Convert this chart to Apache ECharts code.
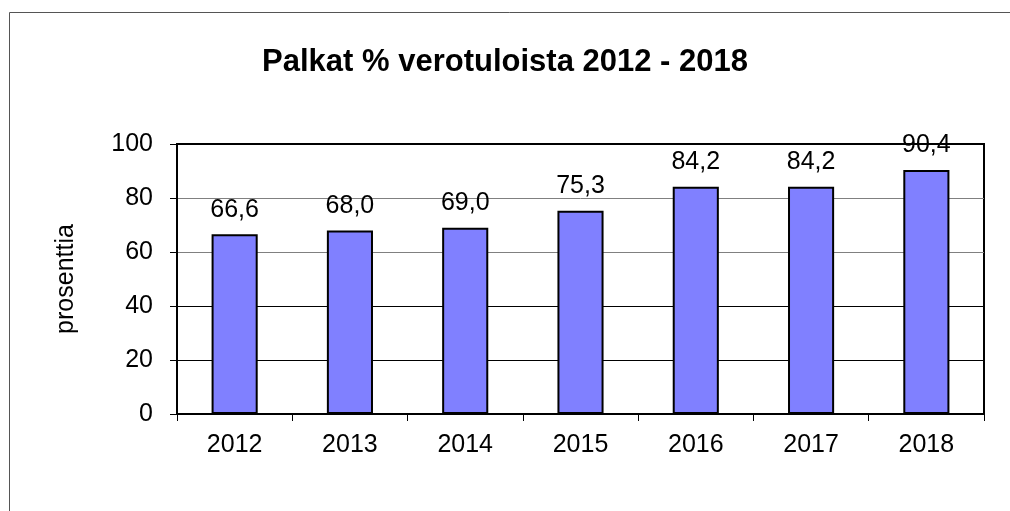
<!DOCTYPE html>
<html><head><meta charset="utf-8">
<script src="https://cdn.jsdelivr.net/npm/echarts@6/dist/echarts.min.js"></script>
<style>html,body{margin:0;padding:0;background:#fff}#c{width:1010px;height:511px}</style>
</head><body><div id="c"></div>
<script>
const categories = ['2012','2013','2014','2015','2016','2017','2018'];
const values = [66.6, 68.0, 69.0, 75.3, 84.2, 84.2, 90.4];
const titleText = 'Palkat % verotuloista 2012 - 2018';
const yAxisName = 'prosenttia';

const chart = echarts.init(document.getElementById('c'), null, {renderer:'canvas'});
const F = 'Liberation Sans, Arial';
chart.setOption({
  animation: false,
  backgroundColor: '#fff',
  title: {
    text: titleText, left: 'center', top: 42,
    textStyle: {fontFamily: F, fontWeight: 'bold', fontSize: 31, color: '#000'}
  },
  graphic: [{
    type: 'polyline', silent: true,
    shape: {points: [[9.5, 511], [9.5, 12.5], [1010, 12.5]]},
    style: {stroke: '#555', lineWidth: 1, fill: null}
  }],
  grid: {left: 177, right: 26, top: 144, bottom: 97, containLabel: false,
    show: true, borderColor: '#000', borderWidth: 2},
  xAxis: {
    type: 'category', data: categories,
    axisLine: {show: true, lineStyle: {color: '#000', width: 2}},
    axisTick: {show: true, inside: false, length: 7, lineStyle: {color: '#000'}},
    axisLabel: {fontFamily: F, fontSize: 25, color: '#000', margin: 19}
  },
  yAxis: {
    type: 'value', min: 0, max: 100, interval: 20,
    name: yAxisName, nameLocation: 'middle', nameGap: 98, nameRotate: 90,
    nameTextStyle: {fontFamily: F, fontSize: 25, color: '#000'},
    axisLine: {show: true, lineStyle: {color: '#000', width: 2}},
    axisTick: {show: true, length: 7, lineStyle: {color: '#000'}},
    axisLabel: {fontFamily: F, fontSize: 25, color: '#000', margin: 24},
    splitLine: {show: true, lineStyle: {color: ['#000','#000','#000','#808080','#808080','#000'], width: 1}}
  },
  series: [{
    type: 'bar', data: values, barWidth: '40%',
    itemStyle: {color: '#8080FF', borderColor: '#000', borderWidth: 2},
    label: {show: true, position: 'top', distance: 12,
      fontFamily: F, fontSize: 25, color: '#000',
      formatter: p => p.value.toFixed(1).replace('.', ',')}
  }]
});
</script></body></html>
